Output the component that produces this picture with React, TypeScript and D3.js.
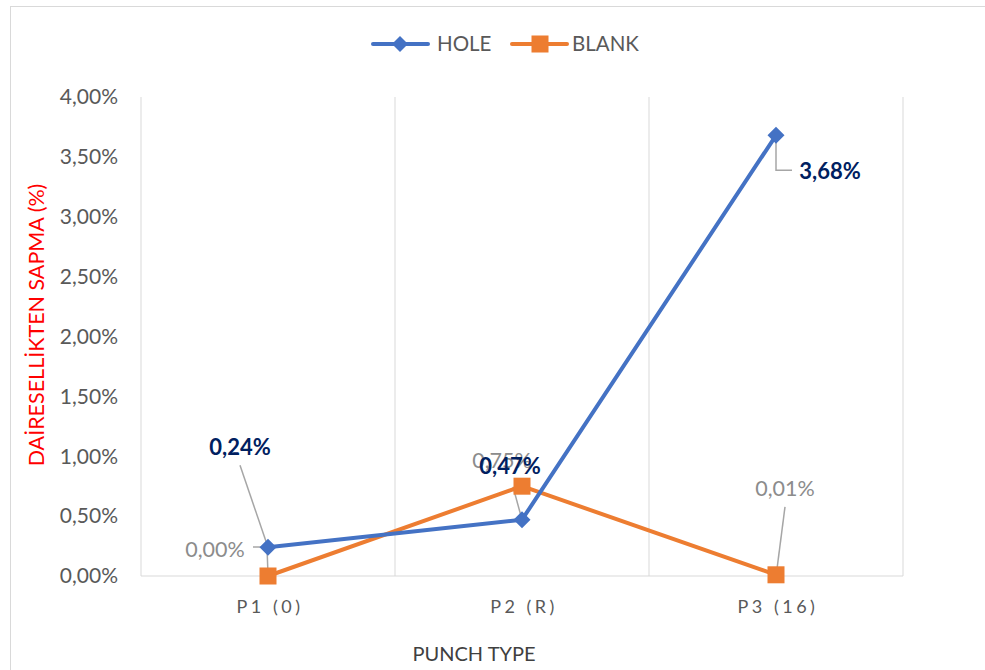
import React from "react";
import * as d3 from "d3";

const categories = ["P1 (0)", "P2 (R)", "P3 (16)"];
const holeValues = [0.24, 0.47, 3.68];
const blankValues = [0.0, 0.75, 0.01];
const yTicks = [0, 0.5, 1, 1.5, 2, 2.5, 3, 3.5, 4];
const seriesNames = ["HOLE", "BLANK"];

const W = 985, H = 670;
const FONT = "Lato, 'Noto Sans', sans-serif";
const fmt = (v: number) => v.toFixed(2).replace(".", ",") + "%";

export default function App() {
  const x = d3.scaleBand<string>().domain(categories).range([141, 903]);
  const y = d3.scaleLinear().domain([0, 4]).range([576, 97]);
  const cx = (c: string) => (x(c) as number) + x.bandwidth() / 2;
  const line = d3.line<[number, number]>().x(d => d[0]).y(d => d[1]);
  const holePts: [number, number][] = categories.map((c, i) => [cx(c), y(holeValues[i])]);
  const blankPts: [number, number][] = categories.map((c, i) => [cx(c), y(blankValues[i])]);
  const blue = "#4472C4", orange = "#ED7D31";
  const navy = "#002060", gray = "#8c8c8c", lead = "#a6a6a6";

  // label center offsets relative to the point [dx, dy] (dy to vertical middle)
  const holeLabelOff: [number, number][] = [[-28, -100], [-12, -53], [54, 36]];
  const blankLabelOff: [number, number][] = [[-53, -27], [-20, -26], [9, -86]];

  const holeLeaders = holePts.map((p, i) => {
    const [dx, dy] = holeLabelOff[i];
    if (i === 2) return `${p[0]},${p[1] + 4} ${p[0]},${p[1] + 35} ${p[0] + 16},${p[1] + 35}`;
    if (i === 1) return `${p[0] - 9},${p[1] - 33} ${p[0]},${p[1]}`;
    return `${p[0] + dx},${p[1] + dy + 18} ${p[0]},${p[1]}`;
  });
  const blankLeaders = blankPts.map((p, i) => {
    const [dx, dy] = blankLabelOff[i];
    if (i === 0) return `${p[0]},${p[1] - 1} ${p[0] - 1},${p[1] - 29} ${p[0] - 15},${p[1] - 29}`;
    if (i === 1) return null;
    return `${p[0] + dx},${p[1] + dy + 18} ${p[0] + 1},${p[1] - 6}`;
  });

  return (
    <svg width={W} height={H} style={{ display: "block", position: "absolute", left: 0, top: 0, background: "#fff" }}>
      <rect x={10.5} y={6.5} width={990} height={700} fill="#fff" stroke="#d9d9d9" strokeWidth={1} />
      {/* vertical gridlines */}
      {[...categories.map(c => x(c) as number), 903].map((gx, i) => (
        <line key={i} x1={gx} x2={gx} y1={97} y2={576} stroke="#d9d9d9" strokeWidth={1} />
      ))}
      <line x1={141} x2={903} y1={576} y2={576} stroke="#d9d9d9" strokeWidth={1} />
      {/* y labels */}
      {yTicks.map(t => (
        <text key={t} x={118} y={y(t)} dy="0.35em" textAnchor="end" fontFamily={FONT} fontSize={21} fill="#595959">{fmt(t)}</text>
      ))}
      <text transform={`translate(44,325) rotate(-90)`} textAnchor="middle" fontFamily={FONT} fontSize={21.5} fill="#FF0000">DAİRESELLİKTEN SAPMA (%)</text>
      {/* x labels */}
      {categories.map(c => (
        <text key={c} x={cx(c) + 2} y={613} textAnchor="middle" fontFamily={FONT} fontSize={18} fill="#595959" letterSpacing={3.5}>{c}</text>
      ))}
      <text x={474} y={661} textAnchor="middle" fontFamily={FONT} fontSize={20} fill="#404040">PUNCH TYPE</text>
      {/* leader lines */}
      {holeLeaders.map((pts, i) => (
        <polyline key={"hl" + i} points={pts} fill="none" stroke={lead} strokeWidth={1.5} />
      ))}
      {blankLeaders.map((pts, i) => pts && (
        <polyline key={"bl" + i} points={pts} fill="none" stroke={lead} strokeWidth={1.5} />
      ))}
      {/* series lines */}
      <path d={line(blankPts) as string} fill="none" stroke={orange} strokeWidth={4} strokeLinejoin="round" />
      <path d={line(holePts) as string} fill="none" stroke={blue} strokeWidth={4} strokeLinejoin="round" />
      {blankPts.map((p, i) => (
        <rect key={"bm" + i} x={p[0] - 8.5} y={p[1] - 8.5} width={17} height={17} fill={orange} />
      ))}
      {holePts.map((p, i) => (
        <path key={"hm" + i} d={`M${p[0]},${p[1] - 8.5}L${p[0] + 8.5},${p[1]}L${p[0]},${p[1] + 8.5}L${p[0] - 8.5},${p[1]}Z`} fill={blue} />
      ))}
      {/* data labels */}
      {blankPts.map((p, i) => {
        const [dx, dy] = blankLabelOff[i];
        return <text key={"bt" + i} x={p[0] + dx} y={p[1] + dy} dy="0.35em" textAnchor="middle" fontFamily={FONT} fontSize={21.5} fill={gray}>{fmt(blankValues[i])}</text>;
      })}
      {holePts.map((p, i) => {
        const [dx, dy] = holeLabelOff[i];
        return <text key={"ht" + i} x={p[0] + dx} y={p[1] + dy} dy="0.35em" textAnchor="middle" fontFamily={FONT} fontSize={22} fontWeight="bold" fill={navy}>{fmt(holeValues[i])}</text>;
      })}
      {/* legend */}
      <line x1={373} x2={428} y1={44} y2={44} stroke={blue} strokeWidth={4} strokeLinecap="round" />
      <path d="M400,36L408,44L400,52L392,44Z" fill={blue} />
      <text x={437} y={44} dy="0.35em" fontFamily={FONT} fontSize={20.5} fill="#595959">{seriesNames[0]}</text>
      <line x1={512} x2={567} y1={44} y2={44} stroke={orange} strokeWidth={4} strokeLinecap="round" />
      <rect x={531.5} y={35.5} width={17} height={17} fill={orange} />
      <text x={572} y={44} dy="0.35em" fontFamily={FONT} fontSize={20.5} fill="#595959">{seriesNames[1]}</text>
    </svg>
  );
}
